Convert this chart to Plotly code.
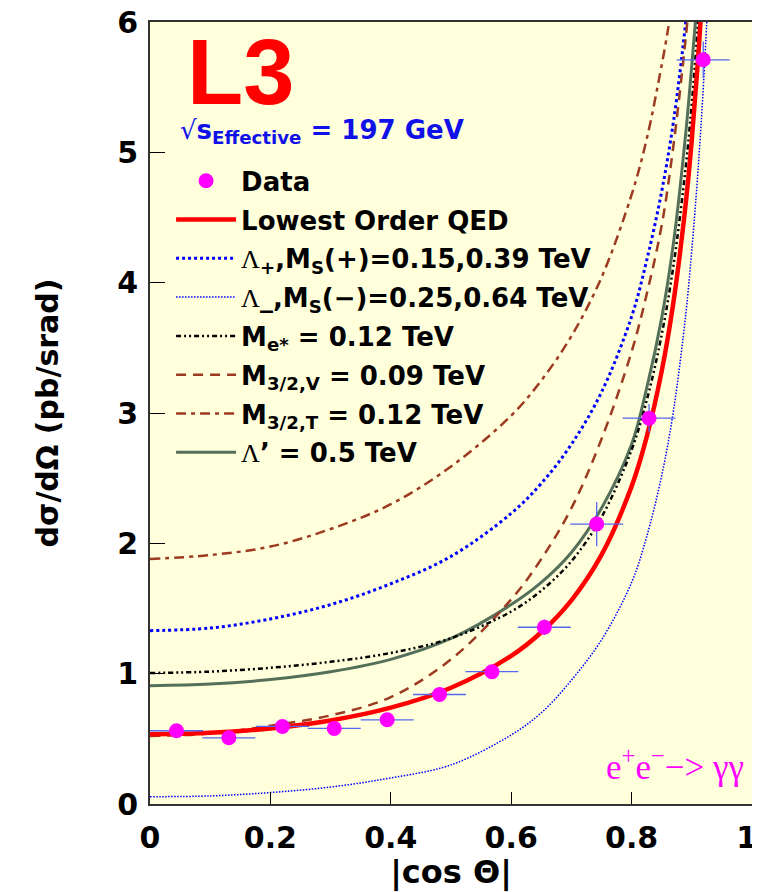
import plotly.graph_objects as go

# ---------------- data ----------------
x_data = [0.044, 0.131, 0.220, 0.306, 0.394, 0.481, 0.568, 0.655, 0.742, 0.829, 0.919]
y_data = [0.562, 0.508, 0.595, 0.580, 0.646, 0.840, 1.015, 1.356, 2.148, 2.960, 5.710]
ex_data = [0.044] * 11
ey_data = [0.04, 0.04, 0.04, 0.04, 0.04, 0.05, 0.05, 0.06, 0.17, 0.11, 0.14]

x_qed = [0.0, 0.1, 0.2, 0.3, 0.4, 0.5, 0.6, 0.65, 0.7, 0.75, 0.8, 0.825, 0.85, 0.87, 0.89, 0.9, 0.91, 0.92]
y_qed = [0.535, 0.546, 0.580, 0.641, 0.739, 0.892, 1.137, 1.318, 1.563, 1.911, 2.437, 2.815, 3.321, 3.866, 4.612, 5.097, 5.690, 6.431]

x_lp = [0.0, 0.1, 0.2, 0.3, 0.4, 0.5, 0.6, 0.65, 0.7, 0.75, 0.8, 0.825, 0.85, 0.87, 0.89, 0.9]
y_lp = [1.33, 1.35, 1.42, 1.53, 1.69, 1.90, 2.23, 2.46, 2.76, 3.16, 3.74, 4.17, 4.70, 5.25, 6.00, 6.45]

x_lm = [0.0, 0.1, 0.2, 0.3, 0.4, 0.5, 0.6, 0.65, 0.7, 0.75, 0.8, 0.825, 0.85, 0.87, 0.89, 0.9, 0.91, 0.92, 0.93]
y_lm = [0.056, 0.062, 0.088, 0.13, 0.20, 0.30, 0.53, 0.70, 0.95, 1.26, 1.70, 2.05, 2.52, 3.03, 3.76, 4.25, 4.84, 5.57, 6.49]

x_es = [0.0, 0.1, 0.2, 0.3, 0.4, 0.5, 0.6, 0.65, 0.7, 0.75, 0.8, 0.825, 0.85, 0.87, 0.89, 0.9, 0.91, 0.915]
y_es = [1.005, 1.016, 1.045, 1.091, 1.159, 1.272, 1.477, 1.638, 1.863, 2.201, 2.717, 3.095, 3.601, 4.146, 4.892, 5.377, 5.970, 6.33]

x_gv = [0.0, 0.1, 0.2, 0.3, 0.4, 0.5, 0.6, 0.65, 0.7, 0.75, 0.8, 0.825, 0.85, 0.87, 0.89, 0.895]
y_gv = [0.522, 0.540, 0.600, 0.680, 0.820, 1.11, 1.57, 1.88, 2.27, 2.80, 3.47, 3.91, 4.44, 5.07, 5.88, 6.12]

x_gt = [0.0, 0.1, 0.2, 0.3, 0.4, 0.5, 0.6, 0.65, 0.7, 0.75, 0.8, 0.825, 0.85, 0.86, 0.865]
y_gt = [1.88, 1.91, 1.975, 2.11, 2.30, 2.59, 2.98, 3.25, 3.59, 4.04, 4.675, 5.10, 5.67, 5.93, 6.08]

x_lpr = [0.0, 0.1, 0.2, 0.3, 0.4, 0.5, 0.6, 0.65, 0.7, 0.75, 0.8, 0.825, 0.85, 0.87, 0.89, 0.9, 0.906, 0.91]
y_lpr = [0.908, 0.92, 0.955, 1.015, 1.11, 1.27, 1.53, 1.70, 1.93, 2.27, 2.76, 3.19, 3.73, 4.32, 5.15, 5.67, 6.0, 6.25]

x_tickvals = [0, 0.2, 0.4, 0.6, 0.8, 1.0]
x_ticktext = ["0", "0.2", "0.4", "0.6", "0.8", "1\u00a0"]

LAM = "<span style='font-family:Liberation Serif;font-weight:normal'>Λ</span>"
labels = [
    "Data",
    "Lowest Order QED",
    LAM + "<sub>+</sub>,M<sub>S</sub>(+)=0.15,0.39 TeV",
    LAM + "_,M<sub>S</sub>(−)=0.25,0.64 TeV",
    "M<sub>e*</sub> = 0.12 TeV",
    "M<sub>3/2,V</sub> = 0.09 TeV",
    "M<sub>3/2,T</sub> = 0.12 TeV",
    LAM + "’ = 0.5 TeV",
]

BROWN = "#9C3A22"
curves = [
    (x_qed, y_qed, labels[1], dict(color="#FF0000", width=4.5, dash="solid"), 2),
    (x_lp, y_lp, labels[2], dict(color="#0000FF", width=3, dash="3px,3px"), 3),
    (x_lm, y_lm, labels[3], dict(color="#0000FF", width=1.5, dash="1.5px,1.5px"), 4),
    (x_es, y_es, labels[4], dict(color="#000000", width=2.5, dash="5px,3px,2px,3px,2px,3px"), 5),
    (x_gv, y_gv, labels[5], dict(color=BROWN, width=2.5, dash="10px,7px"), 6),
    (x_gt, y_gt, labels[6], dict(color=BROWN, width=2.5, dash="10px,5px,4px,5px"), 7),
    (x_lpr, y_lpr, labels[7], dict(color="#55705A", width=3, dash="solid"), 8),
]

fig = go.Figure()
draw_order = [6, 5, 1, 2, 4, 3, 0]
for i in draw_order:
    xs, ys, name, line, rank = curves[i]
    fig.add_trace(go.Scatter(x=xs, y=ys, mode="lines", name=name,
                             line=dict(shape="spline", smoothing=1.0, **line),
                             legendrank=rank, legendgroup=str(rank)))

fig.add_trace(go.Scatter(
    x=x_data, y=y_data, mode="markers", name=labels[0],
    marker=dict(color="#FF00FF", size=15, line=dict(width=0)),
    error_x=dict(type="data", array=ex_data, color="#5566F0", thickness=1.3, width=0),
    error_y=dict(type="data", array=ey_data, color="#5566F0", thickness=1.3, width=0),
    legendrank=1, legendgroup="1",
))

AXFONT = dict(family="DejaVu Sans", size=30, color="black", weight="bold")
fig.update_layout(
    width=752, height=884,
    margin=dict(l=142, r=8, t=14, b=88, autoexpand=False),
    paper_bgcolor="white", plot_bgcolor="#FFFFDC",
    font=dict(family="DejaVu Sans", color="black"),
    showlegend=True,
    legend=dict(x=0.035, y=0.827, xanchor="left", yanchor="top", bgcolor="rgba(0,0,0,0)",
                font=dict(family="DejaVu Sans", size=26, color="black", weight="bold"),
                itemwidth=60, traceorder="grouped", tracegroupgap=2, itemclick=False),
    xaxis=dict(range=[0, 1], tickmode="array", tickvals=x_tickvals, ticktext=x_ticktext,
               ticks="inside", ticklen=12, tickwidth=1, tickcolor="black",
               showline=True, linecolor="#333333", linewidth=2, mirror=True, showgrid=False, zeroline=False,
               tickfont=AXFONT, ticklabelstandoff=6, automargin=False, ticklabeloverflow="allow",
               title=dict(text="|cos Θ|", font=dict(family="DejaVu Sans", size=32, color="black", weight="bold"), standoff=0)),
    yaxis=dict(range=[0, 6], dtick=1, tick0=0, ticks="inside", ticklen=15, tickwidth=1, tickcolor="black",
               showline=True, linecolor="#333333", linewidth=2, mirror=True, showgrid=False, zeroline=False,
               tickfont=AXFONT, ticklabelstandoff=4, automargin=False, ticklabeloverflow="allow",
               title=dict(text="dσ/dΩ (pb/srad)", font=dict(family="DejaVu Sans", size=30, color="black", weight="bold"), standoff=50)),
)

fig.add_annotation(x=0.058, y=5.38, xref="x", yref="y", xanchor="left", yanchor="bottom", showarrow=False,
                   text="<b>L3</b>", font=dict(family="Liberation Sans", size=92, color="#FF0000"), yshift=-22)
fig.add_annotation(x=0.047, y=5.05, xref="x", yref="y", xanchor="left", yanchor="bottom", showarrow=False,
                   text="<span style='font-weight:normal'>√</span><b>s<sub>Effective</sub> = 197 GeV</b>",
                   font=dict(family="DejaVu Sans", size=26, color="#1010E8"), yshift=-4)
fig.add_annotation(x=0.99, y=0.30, xref="x", yref="y", xanchor="right", yanchor="middle", showarrow=False,
                   text="e<sup>+</sup>e<sup>−</sup>−> γγ",
                   font=dict(family="Liberation Serif", size=35, color="#FF00FF"))

fig.write_html("out.html")
